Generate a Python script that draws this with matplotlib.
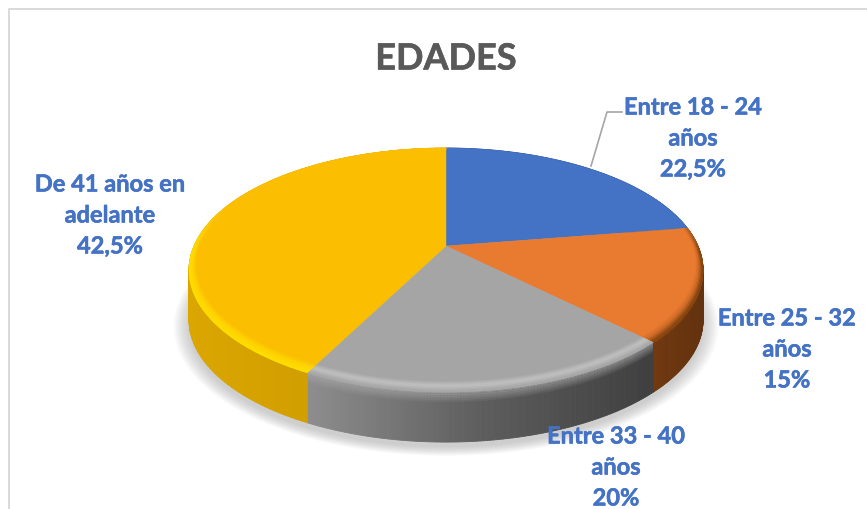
import numpy as np
import matplotlib
matplotlib.use('Agg')
import matplotlib.pyplot as plt
import matplotlib.patheffects as pe
from matplotlib.collections import PolyCollection
from matplotlib.colors import to_rgb

categories = ['Entre 18 - 24\naños', 'Entre 25 - 32\naños', 'Entre 33 - 40\naños', 'De 41 años en\nadelante']
values = [22.5, 15, 20, 42.5]
title = 'EDADES'

face_colors = ['#4472C4', '#E97B31', '#A5A5A5', '#FBBE00']
# side colour from left to right of each slice
side_colors = [['#2F5597', '#2F5597'], ['#70380F', '#63320F'], ['#8E8E8E', '#5E5E5E', '#3F3F3F'], ['#DBA600', '#C79600']]
# bevel colours, inner edge to outer edge
rim_colors = [None, ['#E97B31', '#D06C28', '#86450F'], ['#A5A5A5', '#C2C2C2', '#A8A8A8'], ['#FBBE00', '#FFD400', '#FFDE00']]
# how far the bevel colour bleeds onto the side wall, px
bleed = [0, 4, 10, 0]
label_pos = [(693, 139), (787, 350), (616, 468), (110, 216)]

# geometry of the tilted disc, in pixels
cx, cy = 446, 247
ax_u, ax_v, k = 252, 117.3, 0.197
depth = 50


def project(theta, r=1.0):
    u = r * np.sin(theta)
    v = r * np.cos(theta)
    w = 1 + k * v
    return cx + ax_u * u / w, cy - ax_v * v / w


def hex_interp(colors, t):
    rgb = np.array([to_rgb(c) for c in colors])
    pos = np.linspace(0, 1, len(colors))
    return [np.interp(t, pos, rgb[:, i]) for i in range(3)]


fig = plt.figure(figsize=(8.67, 5.10), dpi=100)
ax = fig.add_axes([0, 0, 1, 1])
ax.set_xlim(0, 867)
ax.set_ylim(510, 0)
ax.axis('off')

# chart border
ax.plot([9, 9, 867], [510, 10, 10], color='#D9D9D9', lw=1.4, zorder=1)

fracs = np.array(values) / sum(values)
edges = np.concatenate([[0], np.cumsum(fracs)]) * 2 * np.pi

# soft shadow under the disc
full = np.linspace(0, 2 * np.pi, 300)
sx, sy = project(full)
for s in np.linspace(1.06, 1.0, 14):
    ax.fill(cx + (sx - cx) * s, cy + depth + 5 + (sy - cy) * s, color='#9A9A9A', alpha=0.04, lw=0, zorder=2)

# side wall
for i in range(len(values)):
    th = np.linspace(edges[i], edges[i + 1], 120)
    x, y = project(th)
    quads = []
    cols = []
    span = x.max() - x.min()
    for j in range(len(th) - 1):
        quads.append([(x[j], y[j]), (x[j + 1], y[j + 1]), (x[j + 1], y[j + 1] + depth), (x[j], y[j] + depth)])
        cols.append(hex_interp(side_colors[i], (x[j] - x.min()) / span))
    ax.add_collection(PolyCollection(quads, facecolors=cols, edgecolors=cols, linewidths=0.6, zorder=3))

    # bevel fading out onto the wall
    if bleed[i] > 0:
        outer = to_rgb(rim_colors[i][-1])
        for n in range(6):
            a = 0.7 * (1 - n / 6)
            y0 = n / 6 * bleed[i]
            y1 = (n + 1) / 6 * bleed[i]
            band = [[(x[j], y[j] + y0), (x[j + 1], y[j + 1] + y0), (x[j + 1], y[j + 1] + y1), (x[j], y[j] + y1)]
                    for j in range(len(th) - 1)]
            ax.add_collection(PolyCollection(band, facecolors=[outer + (a,)], edgecolors='none', zorder=3.5))

# top faces
for i in range(len(values)):
    th = np.linspace(edges[i], edges[i + 1], 120)
    x, y = project(th)
    ax.fill(np.r_[cx, x], np.r_[cy, y], color=face_colors[i], lw=0.3, zorder=4)

# bevel along the front rim, wider at the front than at the sides
steps = np.linspace(0, 1, 9)
for i in range(len(values)):
    if rim_colors[i] is None:
        continue
    th = np.linspace(edges[i], edges[i + 1], 120)
    face = np.array(to_rgb(face_colors[i]))
    front = np.clip(-np.cos(th), 0, 1)
    width = 0.022 + 0.045 * front
    quads = []
    cols = []
    for n in range(len(steps) - 1):
        xa, ya = project(th, 1 - width * (1 - steps[n]))
        xb, yb = project(th, 1 - width * (1 - steps[n + 1]))
        c = np.array(hex_interp(rim_colors[i], n / (len(steps) - 2)))
        for j in range(len(th) - 1):
            w = np.clip((0.35 - np.cos(th[j])) / 0.4, 0, 1)
            col = face + (c - face) * w
            quads.append([(xa[j], ya[j]), (xa[j + 1], ya[j + 1]), (xb[j + 1], yb[j + 1]), (xb[j], yb[j])])
            cols.append(col)
    ax.add_collection(PolyCollection(quads, facecolors=cols, edgecolors=cols, linewidths=0.4, zorder=5))

# leader line of the first label
ax.plot([591, 607, 622], [167, 113, 113], color='#A6A6A6', lw=1.2, zorder=6)

ax.text(446, 60, title, fontsize=26, fontweight='bold', family='Lato', color='#595959',
        ha='center', va='center', zorder=7,
        path_effects=[pe.withStroke(linewidth=0.4, foreground='#595959')])

for cat, val, pos in zip(categories, values, label_pos):
    txt = f'{val:g}'.replace('.', ',') + '%'
    ax.text(pos[0], pos[1], cat + '\n' + txt, fontsize=17, fontweight='bold', family='Lato',
            color='#4472C4', ha='center', va='center', multialignment='center', linespacing=1.42, zorder=7,
            path_effects=[pe.withStroke(linewidth=0.4, foreground='#4472C4')])

fig.savefig('out.png', dpi=100)
